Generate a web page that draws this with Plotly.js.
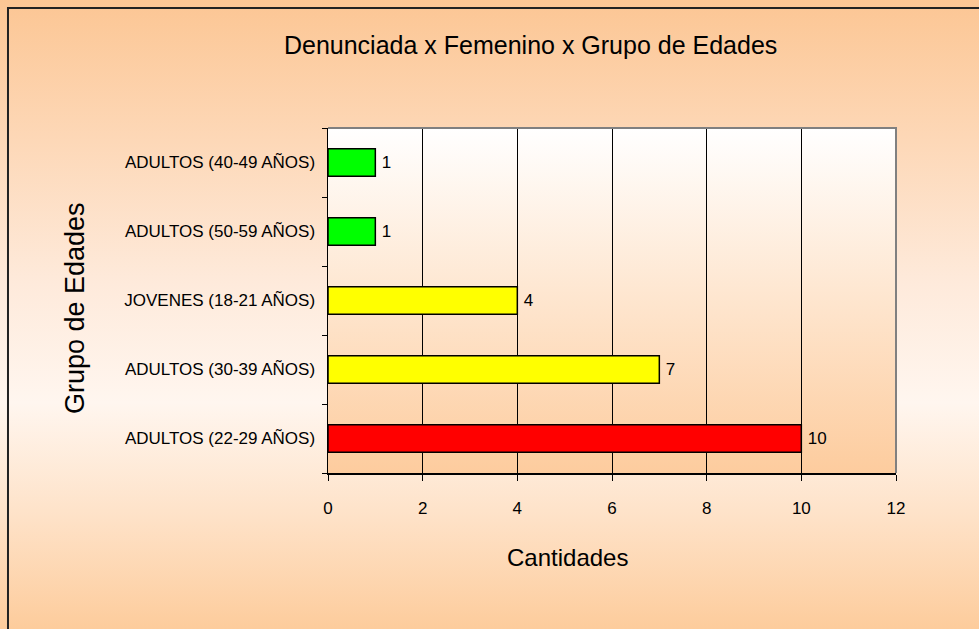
<!DOCTYPE html>
<html>
<head>
<meta charset="utf-8">
<script src="https://cdn.plot.ly/plotly-3.0.1.min.js"></script>
<style>
  body { margin: 0; }
  #chart {
    width: 979px; height: 629px;
    background: linear-gradient(to bottom, #fcc694 0%, #feeadb 45%, #fff6ef 64%, #fee2c8 82%, #fdcc9c 100%);
  }
</style>
</head>
<body>
<div id="chart"></div>
<script>
document.addEventListener("DOMContentLoaded", function() {
    // categorias de abajo hacia arriba
    const grupos = [
        'ADULTOS (22-29 AÑOS)',
        'ADULTOS (30-39 AÑOS)',
        'JOVENES (18-21 AÑOS)',
        'ADULTOS (50-59 AÑOS)',
        'ADULTOS (40-49 AÑOS)'
    ];
    const cantidades = [10, 7, 4, 1, 1];
    const colores = ['#ff0000', '#ffff00', '#ffff00', '#00ff00', '#00ff00'];
    const xTicks = [0, 2, 4, 6, 8, 10, 12];

    const narrow = '"Liberation Sans Narrow", "Arial Narrow", "Liberation Sans", sans-serif';

    // degradado del area de trazado
    const grad = '<svg xmlns="http://www.w3.org/2000/svg" width="10" height="100" preserveAspectRatio="none">' +
        '<defs><linearGradient id="g" x1="0" y1="0" x2="0" y2="1">' +
        '<stop offset="0" stop-color="#ffffff"/><stop offset="1" stop-color="#fdcc9e"/>' +
        '</linearGradient></defs><rect width="10" height="100" fill="url(#g)"/></svg>';
    const gradUrl = 'data:image/svg+xml;charset=utf-8,' + encodeURIComponent(grad);

    const trace = {
        type: 'bar',
        orientation: 'h',
        y: grupos,
        x: cantidades,
        width: 0.4,
        text: cantidades.map(v => '\u2009' + v),
        textposition: 'outside',
        cliponaxis: false,
        textfont: { family: narrow, size: 17, color: '#000' },
        marker: { color: colores, line: { color: '#000', width: 1.5 } },
        hoverinfo: 'x+y'
    };

    Plotly.newPlot('chart', [trace], {
        width: 979,
        height: 629,
        margin: { l: 328, r: 83, t: 128, b: 156 },
        paper_bgcolor: 'rgba(0,0,0,0)',
        plot_bgcolor: 'rgba(0,0,0,0)',
        showlegend: false,
        title: {
            text: 'Denunciada x Femenino x Grupo de Edades',
            font: { family: narrow, size: 25, color: '#000' },
            x: 0.542, xanchor: 'center',
            y: 0.928, yanchor: 'middle'
        },
        xaxis: {
            range: [0, 12],
            tickvals: xTicks,
            ticktext: xTicks.map(String),
            showgrid: true,
            gridcolor: '#000',
            gridwidth: 1,
            zeroline: false,
            showline: true,
            linecolor: '#000',
            linewidth: 1.5,
            ticks: 'outside',
            ticklen: 6,
            tickcolor: '#000',
            ticklabelstandoff: 13,
            tickfont: { family: narrow, size: 17, color: '#000' },
            fixedrange: true
        },
        yaxis: {
            type: 'category',
            categoryorder: 'array',
            categoryarray: grupos,
            tickson: 'boundaries',
            ticks: 'outside',
            ticklen: 5,
            tickcolor: '#000',
            showgrid: false,
            showline: true,
            linecolor: '#000',
            linewidth: 1.5,
            ticklabelstandoff: 8,
            tickfont: { family: narrow, size: 17, color: '#000' },
            fixedrange: true
        },
        images: [{
            source: gradUrl,
            xref: 'paper', yref: 'paper',
            x: 0, y: 1, sizex: 1, sizey: 1,
            sizing: 'stretch',
            xanchor: 'left', yanchor: 'top',
            layer: 'below'
        }],
        shapes: [
            // borde gris superior y derecho del area de trazado
            { type: 'path', xref: 'paper', yref: 'paper', layer: 'above',
              path: 'M0,1 L1,1 L1,0', line: { color: '#808080', width: 2 } },
            // marco del grafico
            { type: 'rect', xref: 'paper', yref: 'paper', layer: 'below',
              x0: -0.5634, x1: 1.2, y0: -0.6, y1: 1.3478,
              line: { color: '#222', width: 2 }, fillcolor: 'rgba(0,0,0,0)' }
        ],
        annotations: [
            { text: 'Cantidades', xref: 'paper', yref: 'paper',
              x: 0.4208, y: -0.2435, showarrow: false,
              xanchor: 'center', yanchor: 'middle',
              font: { family: narrow, size: 24, color: '#000' } },
            { text: 'Grupo de Edades', xref: 'paper', yref: 'paper',
              x: -0.4454, y: 0.478, showarrow: false, textangle: -90,
              xanchor: 'center', yanchor: 'middle',
              font: { family: '"Liberation Sans", Arial, sans-serif', size: 27, color: '#000' } }
        ]
    }, { displayModeBar: false, staticPlot: true });
});
</script>
</body>
</html>
